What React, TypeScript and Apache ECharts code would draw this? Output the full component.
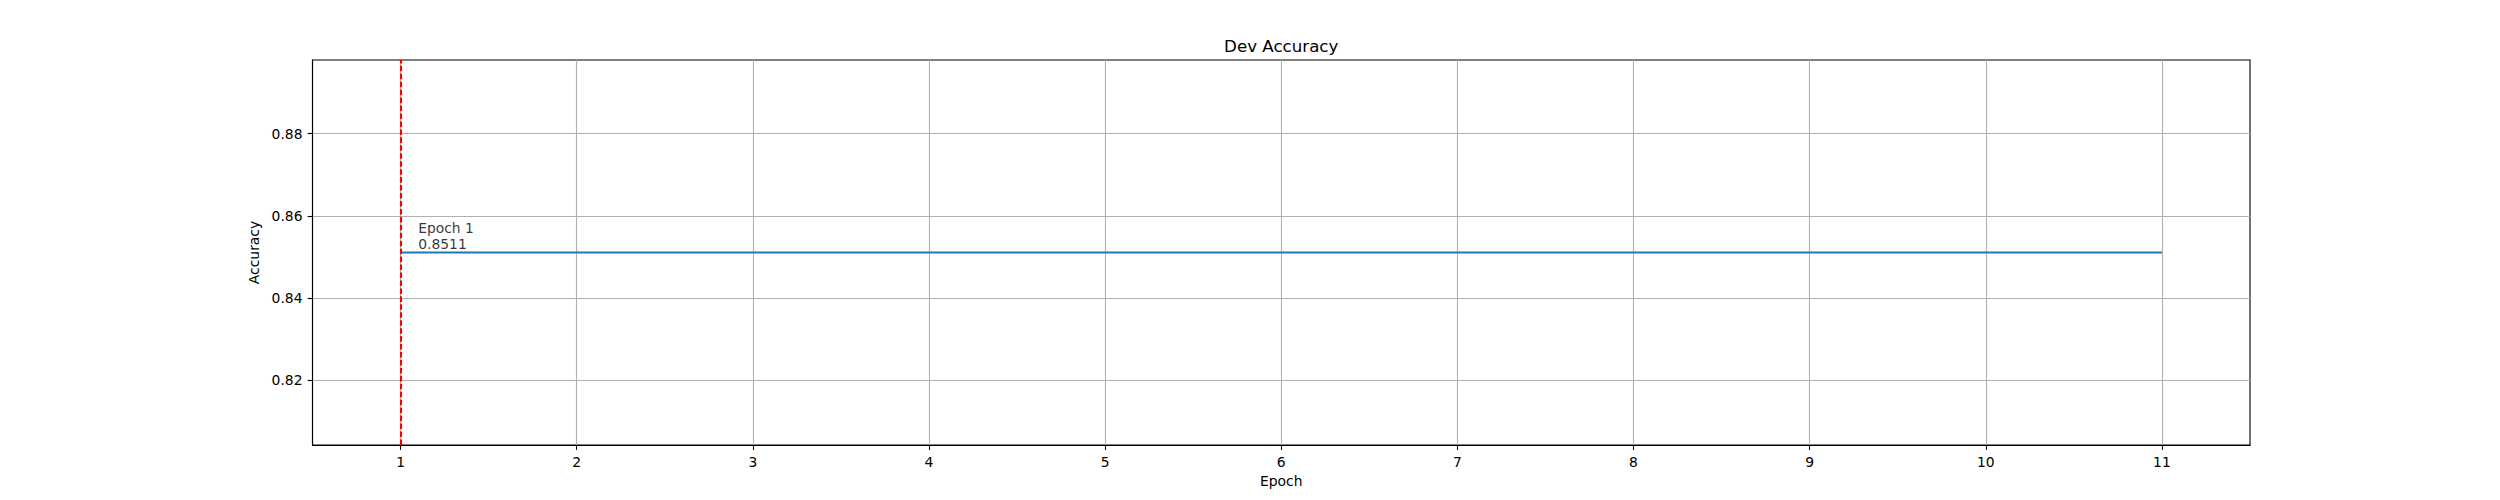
import React, { useEffect, useRef } from "react";
import * as echarts from "echarts";

const epochs = [1, 2, 3, 4, 5, 6, 7, 8, 9, 10, 11];
const devAccuracy = [0.8511, 0.8511, 0.8511, 0.8511, 0.8511, 0.8511, 0.8511, 0.8511, 0.8511, 0.8511, 0.8511];
const xTicks = [1, 2, 3, 4, 5, 6, 7, 8, 9, 10, 11];
const yTicks = [0.82, 0.84, 0.86, 0.88];

const FONT = "DejaVu Sans";

export default function App() {
  const ref = useRef<HTMLDivElement>(null);
  useEffect(() => {
    if (!ref.current) return;
    const chart = echarts.init(ref.current, undefined, { renderer: "svg" });

    // best epoch
    let bestIdx = 0;
    devAccuracy.forEach((v, i) => {
      if (v > devAccuracy[bestIdx]) bestIdx = i;
    });
    const bestEpoch = epochs[bestIdx];
    const bestVal = devAccuracy[bestIdx];

    // matplotlib-like autoscale for constant data
    const lo = Math.min(...devAccuracy);
    const hi = Math.max(...devAccuracy);
    let vmin = lo;
    let vmax = hi;
    if (hi - lo < 1e-12) {
      vmin = lo - 0.05 * Math.abs(lo);
      vmax = hi + 0.05 * Math.abs(hi);
    }
    const m = 0.05 * (vmax - vmin);
    const yMin = vmin - m;
    const yMax = vmax + m;
    const xMin = epochs[0] - 0.05 * (epochs[epochs.length - 1] - epochs[0]);
    const xMax = epochs[epochs.length - 1] + 0.05 * (epochs[epochs.length - 1] - epochs[0]);

    const axisCommon = {
      axisLine: { show: true, lineStyle: { color: "#000", width: 1.1 } },
      axisTick: { show: true, inside: false, length: 4.9, lineStyle: { color: "#000", width: 1.1 } },
      splitLine: { show: true, lineStyle: { color: "#b0b0b0", width: 1.1 } },
    };

    chart.setOption({
      animation: false,
      backgroundColor: "#fff",
      title: {
        text: "Dev Accuracy",
        left: 1276.25,
        textAlign: "center",
        top: 33,
        textStyle: { fontFamily: FONT, fontSize: 16.67, fontWeight: "normal", color: "#000" },
      },
      grid: {
        left: 312.5,
        right: 250,
        top: 60,
        bottom: 55,
        show: true,
        borderColor: "#000",
        borderWidth: 1.1,
        backgroundColor: "#fff",
        containLabel: false,
        outerBoundsMode: "none",
      },
      xAxis: {
        type: "value",
        min: xMin,
        max: xMax,
        name: "Epoch",
        nameLocation: "middle",
        nameGap: 28,
        nameTextStyle: { fontFamily: FONT, fontSize: 13.89, color: "#000" },
        ...axisCommon,
        axisTick: { ...axisCommon.axisTick, customValues: xTicks },
        axisLabel: {
          customValues: xTicks,
          margin: 10,
          fontFamily: FONT,
          fontSize: 13.89,
          color: "#000",
          formatter: (v: number) => String(v),
        },
      },
      yAxis: {
        type: "value",
        min: yMin,
        max: yMax,
        name: "Accuracy",
        nameLocation: "middle",
        nameRotate: 90,
        nameGap: 46,
        nameTextStyle: { fontFamily: FONT, fontSize: 13.89, color: "#000" },
        ...axisCommon,
        axisTick: { ...axisCommon.axisTick, customValues: yTicks },
        axisLabel: {
          customValues: yTicks,
          margin: 10,
          fontFamily: FONT,
          fontSize: 13.89,
          color: "#000",
          formatter: (v: number) => v.toFixed(2),
        },
      },
      series: [
        {
          type: "line",
          data: epochs.map((e, i) => [e, devAccuracy[i]]),
          showSymbol: false,
          symbol: "none",
          lineStyle: { color: "#1f77b4", width: 2.08 },
          itemStyle: { color: "#1f77b4" },
          z: 3,
          markLine: {
            silent: true,
            symbol: ["none", "none"],
            label: { show: false },
            lineStyle: { color: "#ff0000", width: 2.08, type: [5.55, 2.4], opacity: 1 },
            emphasis: { disabled: true },
            data: [{ xAxis: bestEpoch }],
          },
        },
        {
          type: "scatter",
          data: [[bestEpoch + 0.1, bestVal]],
          symbolSize: 0,
          silent: true,
          z: 4,
          label: {
            show: true,
            position: [0, 0],
            align: "left",
            verticalAlign: "bottom",
            fontFamily: FONT,
            fontSize: 13.89,
            lineHeight: 16.67,
            color: "#000",
            formatter: () => `Epoch ${bestEpoch}\n${bestVal.toFixed(4)}`,
          },
        },
      ],
    });
    return () => chart.dispose();
  }, []);
  return (
    <div
      ref={ref}
      style={{ position: "fixed", left: 0, top: 0, width: 2500, height: 500 }}
    />
  );
}
